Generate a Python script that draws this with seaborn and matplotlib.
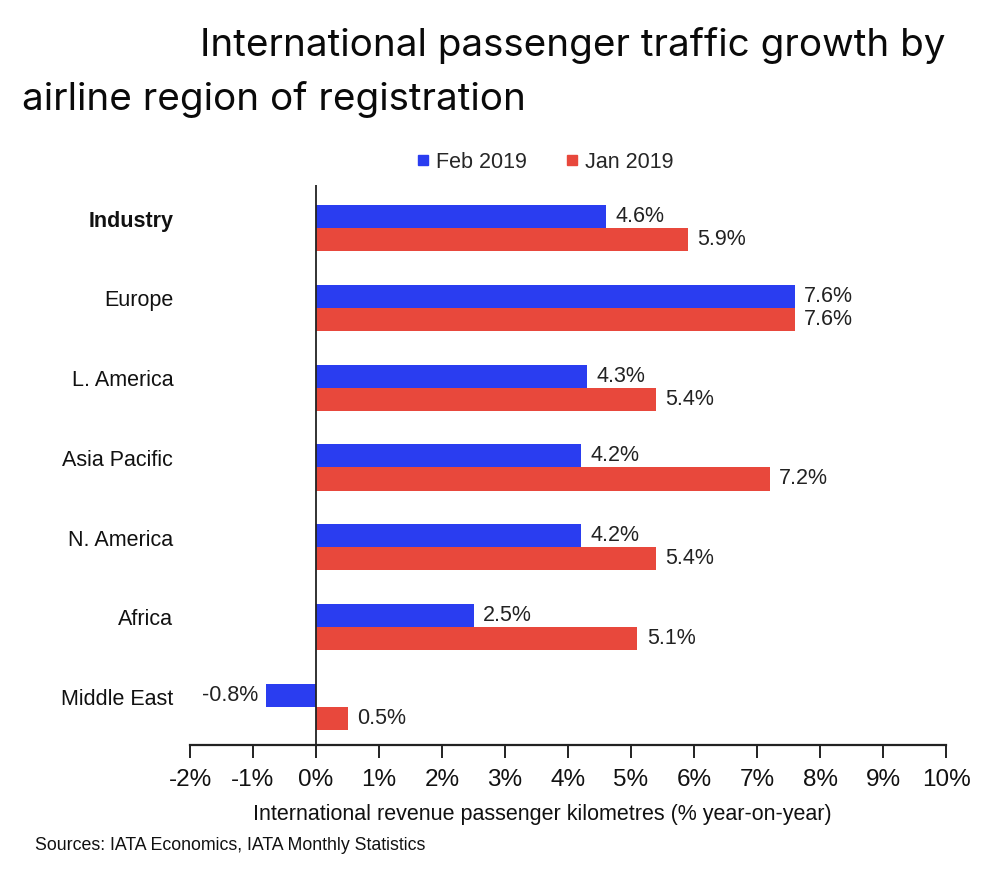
import matplotlib
matplotlib.use("Agg")
import matplotlib.pyplot as plt
import seaborn as sns
import pandas as pd
from matplotlib.lines import Line2D

# ---- data ----
regions = ["Industry", "Europe", "L. America", "Asia Pacific", "N. America", "Africa", "Middle East"]
series_names = ["Feb 2019", "Jan 2019"]
feb_2019 = [4.6, 7.6, 4.3, 4.2, 4.2, 2.5, -0.8]
jan_2019 = [5.9, 7.6, 5.4, 7.2, 5.4, 5.1, 0.5]
x_ticks = list(range(-2, 11))
x_tick_labels = [f"{t}%" for t in x_ticks]

colors = {"Feb 2019": "#2A3DF0", "Jan 2019": "#E8483C"}

df = pd.DataFrame({
    "region": regions * 2,
    "series": [series_names[0]] * len(regions) + [series_names[1]] * len(regions),
    "value": feb_2019 + jan_2019,
})

sns.set_style("white")
plt.rcParams["font.family"] = ["Liberation Sans", "DejaVu Sans"]

fig = plt.figure(figsize=(10, 8.77), dpi=100)
ax = fig.add_axes([0.19, 0.1505, 0.756, 0.6385])

sns.barplot(data=df, x="value", y="region", hue="series", order=regions,
            hue_order=series_names, palette=colors, orient="h",
            width=0.58, dodge=True, legend=False, ax=ax, saturation=1,
            edgecolor="none", linewidth=0)

ax.set_xlim(-2, 10)
ax.set_ylim(6.48, -0.54)

# value labels
for container, vals in zip(ax.containers, [feb_2019, jan_2019]):
    for bar, v in zip(container, vals):
        yc = bar.get_y() + bar.get_height() / 2
        if v >= 0:
            ax.text(v + 0.15, yc, f"{v:.1f}%", va="center", ha="left", fontsize=15.5, color="#222222")
        else:
            ax.text(v - 0.12, yc, f"{v:.1f}%", va="center", ha="right", fontsize=15.5, color="#222222")

# spines
for s in ["top", "right", "left"]:
    ax.spines[s].set_visible(False)
ax.spines["bottom"].set_color("#222222")
ax.spines["bottom"].set_linewidth(1.6)
ax.axvline(0, color="#222222", linewidth=1.3, zorder=5)

ax.set_xticks(x_ticks)
ax.set_xticklabels(x_tick_labels, fontsize=17.5, color="#111111")
ax.tick_params(axis="x", bottom=True, direction="out", length=9, width=1.4, color="#222222", pad=8)

# category labels slightly above group center
ax.set_yticks([i - 0.12 for i in range(len(regions))])
ax.set_yticklabels(regions, fontsize=15.5, color="#111111")
ax.tick_params(axis="y", left=False, length=0, pad=12)
for lbl in ax.get_yticklabels():
    if lbl.get_text() == "Industry":
        lbl.set_fontweight("bold")

ax.set_xlabel("International revenue passenger kilometres (% year-on-year)", fontsize=15.5,
              color="#111111")
ax.xaxis.set_label_coords(0.466, -0.105)
ax.set_ylabel("")

# legend
handles = [Line2D([0], [0], marker="s", linestyle="none", markersize=7.5,
                  markerfacecolor=colors[n], markeredgecolor=colors[n]) for n in series_names]
fig.legend(handles, series_names, loc="center", bbox_to_anchor=(0.543, 0.815), ncol=2,
           frameon=False, fontsize=15.5, handletextpad=0.1, columnspacing=1.6,
           handlelength=1.0)

# title
fig.text(0.2, 0.948, "International passenger traffic growth by", fontsize=27.8,
         family=["Inter", "DejaVu Sans"], ha="left", va="center", color="#0A0A0A")
fig.text(0.022, 0.886, "airline region of registration", fontsize=27.8,
         family=["Inter", "DejaVu Sans"], ha="left", va="center", color="#0A0A0A")

# source
fig.text(0.035, 0.036, "Sources: IATA Economics, IATA Monthly Statistics", fontsize=12.8,
         family=["Liberation Sans Narrow", "Liberation Sans", "DejaVu Sans"],
         ha="left", va="center", color="#111111")

fig.savefig("out.png", dpi=100)
